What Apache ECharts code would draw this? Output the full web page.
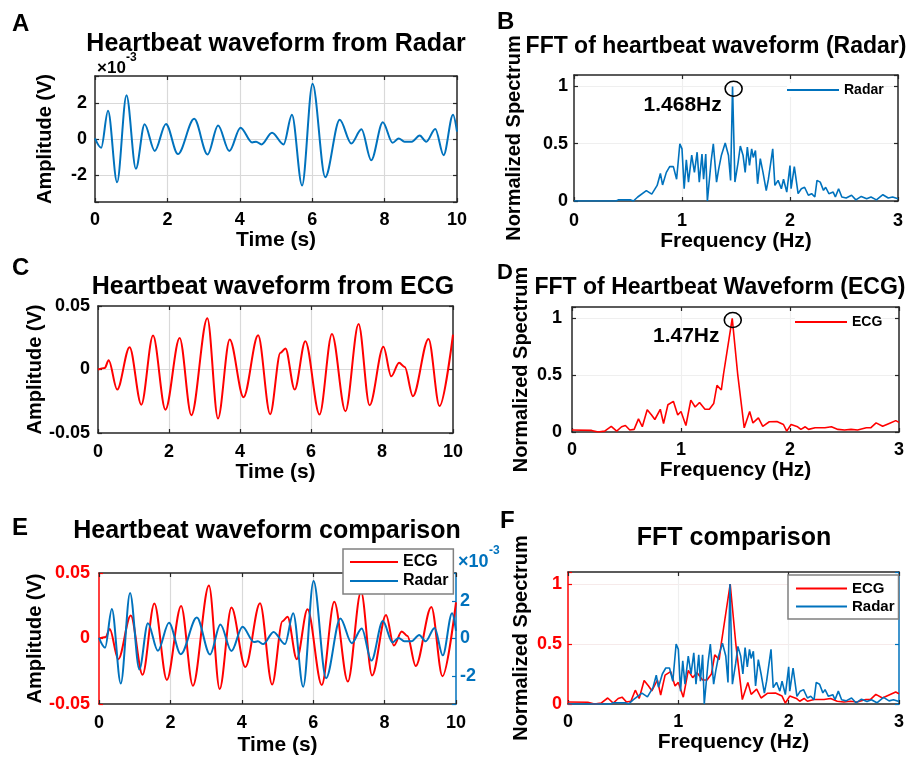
<!DOCTYPE html>
<html>
<head>
<meta charset="utf-8">
<title>Heartbeat waveform: radar vs ECG</title>
<script src="https://cdn.jsdelivr.net/npm/echarts@6/dist/echarts.min.js"></script>
<style>
  html, body { margin: 0; padding: 0; background: #fff; }
  #main { width: 909px; height: 758px; }
</style>
</head>
<body>
<div id="main"></div>
<script>
// ---- values ----
// radar heartbeat waveform, amplitude in units of 1e-3 V (peaks / troughs)
const radarTime = [0, 0.17, 0.36, 0.61, 0.87, 1.13, 1.37, 1.65, 1.96, 2.29, 2.74, 3.11, 3.40, 3.71, 4.02, 4.34, 4.45, 4.60, 4.89,
  5.21, 5.44, 5.72, 6.01, 6.36, 6.76, 7.08, 7.36, 7.63, 7.95, 8.22, 8.39, 8.55, 8.75, 8.97, 9.15, 9.40, 9.63, 9.89, 10];
const radarAmp = [0.03, -0.49, 1.57, -2.40, 2.43, -1.65, 0.82, -0.66, 0.84, -0.84, 1.12, -0.86, 0.75, -0.67, 0.63, -0.19, -0.15, -0.30, 0.35,
  -0.30, 1.35, -2.58, 3.07, -2.12, 1.07, -0.25, 0.54, -1.18, 0.93, -0.21, 0.03, -0.15, -0.15, 0.19, -0.15, 0.56, -0.90, 1.35, 0.41];

// ECG heartbeat waveform, amplitude in V
const ecgTime = [0, 0.19, 0.30, 0.54, 0.89, 1.22, 1.55, 1.90, 2.30, 2.63, 3.08, 3.38, 3.71, 4.10, 4.51, 4.85, 5.14, 5.28, 5.54, 5.84,
  6.24, 6.59, 6.97, 7.34, 7.65, 8.04, 8.26, 8.48, 8.64, 8.87, 9.31, 9.62, 10];
const ecgAmp = [0, 0.0012, 0.0073, -0.0158, 0.0176, -0.0277, 0.0267, -0.0316, 0.0249, -0.0360, 0.0404, -0.0386, 0.0236, -0.0218, 0.0269,
  -0.0352, 0.0132, 0.0166, -0.0158, 0.0223, -0.0355, 0.0280, -0.0329, 0.0358, -0.0282, 0.0179, -0.0054, 0.0054, 0.0020, -0.0210,
  0.0241, -0.0288, 0.0275];

// normalized FFT of the radar waveform
const radarFreq = [0, 0.39, 0.41, 0.52, 0.55, 0.59, 0.67, 0.72, 0.77, 0.80, 0.82, 0.855, 0.886, 0.92, 0.95, 0.98, 1.00, 1.02, 1.04, 1.06,
  1.09, 1.115, 1.14, 1.16, 1.185, 1.20, 1.22, 1.235, 1.26, 1.27, 1.29, 1.32, 1.34, 1.365, 1.40, 1.43, 1.45, 1.468, 1.49, 1.52,
  1.54, 1.565, 1.585, 1.605, 1.625, 1.645, 1.66, 1.68, 1.70, 1.725, 1.75, 1.78, 1.80, 1.84, 1.86, 1.89, 1.92, 1.94, 1.97, 2.00,
  2.01, 2.04, 2.075, 2.105, 2.135, 2.17, 2.20, 2.23, 2.25, 2.28, 2.31, 2.33, 2.36, 2.40, 2.42, 2.45, 2.48, 2.52, 2.57, 2.61,
  2.66, 2.71, 2.75, 2.80, 2.86, 2.91, 2.95, 3.0];
const radarSpec = [0, 0, 0.01, 0.01, 0, 0.035, 0.09, 0.06, 0.136, 0.24, 0.14, 0.25, 0.30, 0.30, 0.19, 0.50, 0.455, 0.107, 0.36, 0.165,
  0.40, 0.25, 0.426, 0.165, 0.41, 0.19, 0.41, 0.0, 0.25, 0.35, 0.50, 0.165, 0.28, 0.40, 0.507, 0.40, 0.18, 1.0, 0.165, 0.34,
  0.48, 0.40, 0.25, 0.47, 0.31, 0.455, 0.38, 0.44, 0.15, 0.37, 0.25, 0.09, 0.19, 0.455, 0.136, 0.18, 0.107, 0.19, 0.078, 0.31,
  0.107, 0.30, 0.064, 0.107, 0.12, 0.05, 0.064, 0.035, 0.18, 0.165, 0.093, 0.12, 0.064, 0.078, 0.035, 0.107, 0.035, 0.026, 0.05, 0.01,
  0.04, 0.02, 0.035, 0.01, 0.055, 0.026, 0.035, 0.02];

// normalized FFT of the ECG waveform
const ecgFreq = [0, 0.18, 0.24, 0.30, 0.36, 0.41, 0.455, 0.49, 0.53, 0.57, 0.61, 0.645, 0.69, 0.73, 0.76, 0.81, 0.84, 0.88, 0.93, 0.97,
  1.00, 1.045, 1.09, 1.13, 1.17, 1.22, 1.26, 1.30, 1.33, 1.37, 1.39, 1.47, 1.52, 1.58, 1.63, 1.66, 1.71, 1.75, 1.81, 1.88,
  1.94, 1.97, 2.01, 2.07, 2.10, 2.14, 2.17, 2.23, 2.32, 2.38, 2.44, 2.50, 2.56, 2.62, 2.70, 2.74, 2.79, 2.85, 2.91, 2.97, 3.0];
const ecgSpec = [0.017, 0.014, 0, 0.008, 0.05, 0.008, 0.046, 0.057, 0.017, 0.023, 0.115, 0.046, 0.196, 0.15, 0.11, 0.20, 0.075, 0.24, 0.27, 0.15,
  0.18, 0.057, 0.28, 0.22, 0.26, 0.20, 0.20, 0.25, 0.41, 0.37, 0.51, 1.0, 0.51, 0.037, 0.18, 0.08, 0.124, 0.05, 0.09, 0.092,
  0.066, 0.008, 0.066, 0.046, 0.023, 0.046, 0.023, 0.037, 0.037, 0.046, 0.023, 0.017, 0.023, 0.017, 0.037, 0.037, 0.08, 0.05, 0.075, 0.10, 0.085];

// peak annotations
const radarPeak = [1.468, 1.0];
const ecgPeak = [1.47, 1.0];
const radarPeakText = '1.468Hz';
const ecgPeakText = '1.47Hz';

const seriesNames = ['ECG', 'Radar'];
const panelLetters = ['A', 'B', 'C', 'D', 'E', 'F'];
const panelTitles = ['Heartbeat waveform from Radar', 'FFT of heartbeat waveform (Radar)', 'Heartbeat waveform from ECG',
  'FFT of Heartbeat Waveform (ECG)', 'Heartbeat waveform comparison', 'FFT comparison'];

// ---- styling ----
const FONT = '"Liberation Sans", Arial, Helvetica, sans-serif';
const RED = '#ff0000';
const BLUE = '#0072bd';
const BOX = '#262626';
const GRID_DARK = '#d9d9d9';
const GRID_FAINT = '#efefef';

function zip(xs, ys) {
  return xs.map((x, i) => [x, ys[i]]);
}

const grids = [
  {left: 95, top: 76, width: 362, height: 126},   // A
  {left: 574, top: 75, width: 324, height: 126},  // B
  {left: 98, top: 306, width: 355, height: 127},  // C
  {left: 572, top: 307, width: 327, height: 125}, // D
  {left: 99, top: 573, width: 357, height: 131},  // E
  {left: 568, top: 572, width: 331, height: 132}  // F
];

function boldText(size, color) {
  return {fontFamily: FONT, fontWeight: 'bold', fontSize: size, color: color || '#000'};
}

// bottom + top x axes (top one only closes the box)
function xPair(gi, max, interval, name, nameGap, margin, gridColor) {
  const line = {show: true, onZero: false, lineStyle: {color: BOX, width: 1.5}};
  const tick = {show: true, inside: true, length: 4, lineStyle: {color: BOX, width: 1.2}};
  return [{
    type: 'value', gridIndex: gi, position: 'bottom', min: 0, max: max, interval: interval,
    name: name, nameLocation: 'middle', nameGap: nameGap, nameTextStyle: boldText(21),
    axisLine: line, axisTick: tick,
    axisLabel: Object.assign(boldText(18), {margin: margin}),
    splitLine: {show: true, showMinLine: false, showMaxLine: false, lineStyle: {color: gridColor, width: 1.2}}
  }, {
    type: 'value', gridIndex: gi, position: 'top', min: 0, max: max, interval: interval,
    axisLine: line, axisTick: tick, axisLabel: {show: false}, splitLine: {show: false}
  }];
}

// left + right y axes
function yPair(gi, c) {
  const scale = {min: c.min, max: c.max};
  if (c.interval) scale.interval = c.interval; else scale.splitNumber = c.splitNumber;
  const fmt = v => (Math.abs(v) > c.labelLimit ? '' : String(+v.toFixed(4)));
  const left = Object.assign({
    type: 'value', gridIndex: gi, position: 'left',
    name: c.name, nameLocation: 'middle', nameGap: c.nameGap, nameTextStyle: boldText(20),
    axisLine: {show: true, onZero: false, lineStyle: {color: c.leftColor || BOX, width: 1.5}},
    axisTick: {show: true, inside: true, length: 4, lineStyle: {color: c.leftColor || BOX, width: 1.2}},
    axisLabel: Object.assign(boldText(18, c.leftLabelColor || '#000'), {margin: c.margin, formatter: fmt}),
    splitLine: {show: true, showMinLine: false, showMaxLine: false, lineStyle: {color: c.gridColor, width: 1.2}}
  }, scale);
  const rscale = c.right ? {min: c.right.min, max: c.right.max, splitNumber: c.right.splitNumber} : scale;
  const right = Object.assign({
    type: 'value', gridIndex: gi, position: 'right',
    axisLine: {show: true, onZero: false, lineStyle: {color: c.rightColor || BOX, width: 1.5}},
    axisTick: {show: true, inside: true, length: 4, lineStyle: {color: c.rightColor || BOX, width: 1.2}},
    axisLabel: c.right
      ? Object.assign(boldText(18, c.rightColor), {margin: 4, formatter: v => (Math.abs(v) > 3 ? '' : String(v))})
      : {show: false},
    splitLine: {show: false}
  }, rscale);
  return [left, right];
}

const xAxes = [].concat(
  xPair(0, 10, 2, 'Time (s)', 26, 9, GRID_DARK),
  xPair(1, 3, 1, 'Frequency (Hz)', 28, 11, GRID_FAINT),
  xPair(2, 10, 2, 'Time (s)', 27, 10, GRID_DARK),
  xPair(3, 3, 1, 'Frequency (Hz)', 22, 9, GRID_FAINT),
  xPair(4, 10, 2, 'Time (s)', 31, 10, GRID_DARK),
  xPair(5, 3, 1, 'Frequency (Hz)', 26, 9, GRID_FAINT)
);

const yAxes = [].concat(
  yPair(0, {min: -3.5, max: 3.5, splitNumber: 3, labelLimit: 3, name: 'Amplitude (V)', nameGap: 40, margin: 8, gridColor: GRID_DARK}),
  yPair(1, {min: 0, max: 1.1, interval: 0.5, labelLimit: 1.05, name: 'Normalized Spectrum', nameGap: 50, margin: 6, gridColor: GRID_FAINT}),
  yPair(2, {min: -0.05, max: 0.05, interval: 0.05, labelLimit: 0.06, name: 'Amplitude (V)', nameGap: 50, margin: 8, gridColor: GRID_DARK}),
  yPair(3, {min: 0, max: 1.1, interval: 0.5, labelLimit: 1.05, name: 'Normalized Spectrum', nameGap: 41, margin: 10, gridColor: GRID_FAINT}),
  yPair(4, {min: -0.05, max: 0.05, interval: 0.05, labelLimit: 0.06, name: 'Amplitude (V)', nameGap: 50, margin: 9,
    gridColor: '#ffd6d6', leftColor: RED, leftLabelColor: RED, rightColor: BLUE,
    right: {min: -3.5, max: 3.5, splitNumber: 3}}),
  yPair(5, {min: 0, max: 1.1, interval: 0.5, labelLimit: 1.05, name: 'Normalized Spectrum', nameGap: 37, margin: 6,
    gridColor: '#f6eaea', leftColor: RED, leftLabelColor: RED, rightColor: BLUE})
);

function wave(name, data, color, xi, yi, width) {
  return {
    type: 'line', name: name, xAxisIndex: xi, yAxisIndex: yi, data: data,
    symbol: 'none', smooth: 0.33, smoothMonotone: 'x', silent: true,
    lineStyle: {color: color, width: width}, itemStyle: {color: color}
  };
}

function spectrum(name, data, color, xi, yi, width) {
  return {
    type: 'line', name: name, xAxisIndex: xi, yAxisIndex: yi, data: data,
    symbol: 'none', silent: true,
    lineStyle: {color: color, width: width}, itemStyle: {color: color}
  };
}

function peakMarks(circleAt, textAt, text) {
  return {
    silent: true,
    data: [{
      coord: circleAt, symbol: 'circle', symbolSize: [17, 15],
      itemStyle: {color: 'rgba(0,0,0,0)', borderColor: '#000', borderWidth: 1.5},
      label: {show: false}
    }, {
      coord: textAt, symbol: 'circle', symbolSize: 0,
      label: Object.assign({show: true, position: 'inside', formatter: text}, boldText(21))
    }]
  };
}

const radarSpecB = spectrum('Radar', zip(radarFreq, radarSpec), BLUE, 2, 2, 1.6);
radarSpecB.markPoint = peakMarks([radarPeak[0] + 0.01, radarPeak[1] - 0.02], [1.006, 0.84], radarPeakText);
const ecgSpecD = spectrum('ECG', zip(ecgFreq, ecgSpec), RED, 6, 6, 1.6);
ecgSpecD.markPoint = peakMarks([ecgPeak[0] + 0.005, ecgPeak[1] - 0.015], [1.048, 0.84], ecgPeakText);

const series = [
  wave('Radar', zip(radarTime, radarAmp), BLUE, 0, 0, 2),
  radarSpecB,
  wave('ECG', zip(ecgTime, ecgAmp), RED, 4, 4, 2),
  ecgSpecD,
  wave('ECG', zip(ecgTime, ecgAmp), RED, 8, 8, 2),
  wave('Radar', zip(radarTime, radarAmp), BLUE, 8, 9, 2),
  spectrum('ECG', zip(ecgFreq, ecgSpec), RED, 10, 10, 1.6),
  spectrum('Radar', zip(radarFreq, radarSpec), BLUE, 10, 11, 1.6)
];

function legendAt(left, top, names, size, itemWidth, gap, padding) {
  return {
    left: left, top: top, orient: 'vertical', data: names, selectedMode: false,
    icon: 'rect', itemWidth: itemWidth, itemHeight: 2, itemGap: gap,
    textStyle: boldText(size),
    backgroundColor: '#fff',
    borderColor: padding ? '#808080' : 'transparent', borderWidth: padding ? 1.5 : 0,
    padding: padding || 0
  };
}

const legends = [
  legendAt(787, 83, ['Radar'], 14, 52, 5, null),
  legendAt(795, 315, ['ECG'], 14, 52, 5, null),
  legendAt(343, 549, seriesNames, 16, 48, 3, [5, 5, 5, 7]),
  legendAt(788, 575, seriesNames, 15, 51, 3, [6, 4, 5, 8])
];

function label(x, y, text, size, color, align) {
  return {
    type: 'text', x: x, y: y, z: 100, silent: true,
    style: {
      text: text, fill: color || '#000', fontFamily: FONT, fontWeight: 'bold', fontSize: size,
      align: align || 'left', textAlign: align || 'left', verticalAlign: 'top', textVerticalAlign: 'top'
    }
  };
}

const letterPos = [[12, 12, 24], [497, 10, 24], [12, 256, 24], [497, 262, 22], [12, 516, 24], [500, 509, 24]];
const titlePos = [[276, 32, 25], [716, 35, 23], [273, 275, 25], [720, 276, 23], [267, 519, 25], [734, 526, 25]];

const graphics = [];
panelLetters.forEach((l, i) => graphics.push(label(letterPos[i][0], letterPos[i][1], l, letterPos[i][2])));
panelTitles.forEach((t, i) => graphics.push(label(titlePos[i][0], titlePos[i][1], t, titlePos[i][2], '#000', 'center')));
// exponent labels of the radar amplitude axes
graphics.push(label(97, 60, '\u00d710', 17));
graphics.push(label(126, 52, '-3', 12));
graphics.push(label(458, 553, '\u00d710', 18, BLUE));
graphics.push(label(489, 545, '-3', 12, BLUE));

const chart = echarts.init(document.getElementById('main'));
chart.setOption({
  animation: false,
  backgroundColor: '#fff',
  grid: grids,
  xAxis: xAxes,
  yAxis: yAxes,
  legend: legends,
  series: series,
  graphic: graphics
});
</script>
</body>
</html>
